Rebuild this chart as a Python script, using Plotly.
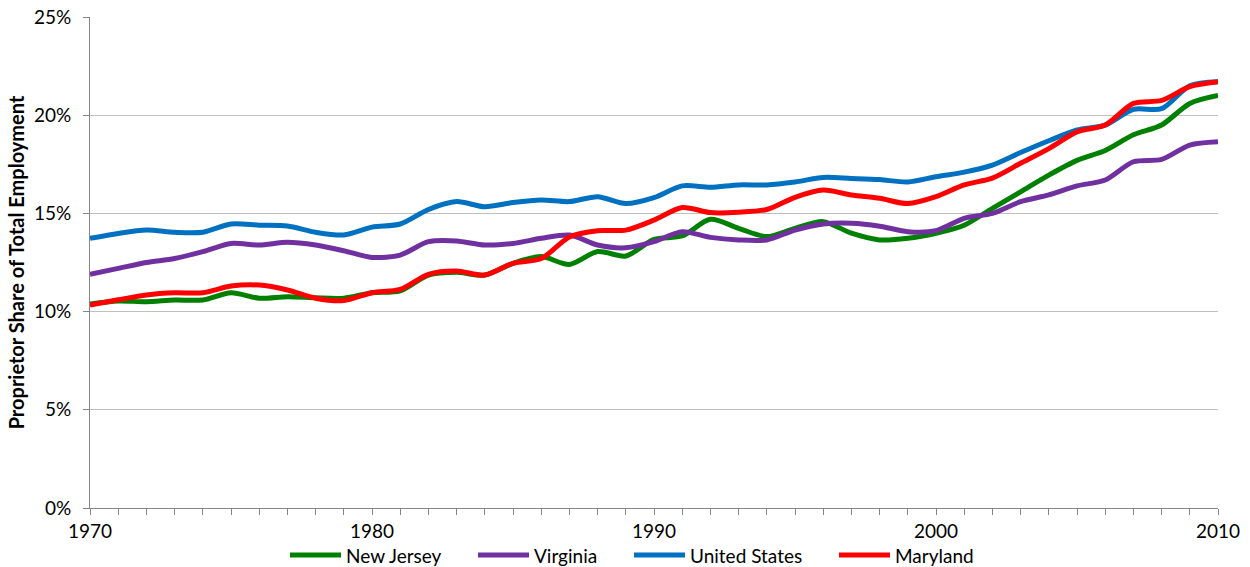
import plotly.graph_objects as go

years = list(range(1970, 2011))

new_jersey = [10.39, 10.54, 10.5, 10.59, 10.59, 10.96, 10.68, 10.76, 10.7, 10.68,
              10.96, 11.06, 11.86, 12.0, 11.86, 12.46, 12.8, 12.4, 13.06, 12.83,
              13.68, 13.85, 14.7, 14.24, 13.82, 14.24, 14.58, 13.99, 13.65, 13.73,
              13.99, 14.4, 15.26, 16.1, 16.95, 17.7, 18.2, 19.0, 19.5, 20.6, 21.0]

virginia = [11.9, 12.2, 12.5, 12.7, 13.05, 13.47, 13.39, 13.53, 13.39, 13.1,
            12.76, 12.88, 13.56, 13.6, 13.39, 13.47, 13.73, 13.9, 13.39, 13.25,
            13.56, 14.07, 13.78, 13.65, 13.65, 14.15, 14.46, 14.5, 14.35, 14.07,
            14.12, 14.75, 15.0, 15.6, 15.94, 16.4, 16.7, 17.63, 17.75, 18.48, 18.65]

united_states = [13.73, 13.98, 14.15, 14.04, 14.04, 14.46, 14.4, 14.36, 14.04, 13.9,
                 14.3, 14.46, 15.2, 15.6, 15.34, 15.55, 15.68, 15.6, 15.85, 15.5,
                 15.8, 16.4, 16.33, 16.45, 16.45, 16.6, 16.83, 16.78, 16.72, 16.6,
                 16.87, 17.1, 17.46, 18.1, 18.7, 19.25, 19.5, 20.3, 20.33, 21.5, 21.7]

maryland = [10.33, 10.6, 10.85, 10.96, 10.96, 11.3, 11.35, 11.1, 10.68, 10.56,
            10.96, 11.13, 11.9, 12.07, 11.86, 12.46, 12.7, 13.8, 14.12, 14.15,
            14.66, 15.3, 15.04, 15.06, 15.2, 15.82, 16.19, 15.94, 15.77, 15.5,
            15.85, 16.45, 16.8, 17.55, 18.3, 19.15, 19.5, 20.6, 20.75, 21.45, 21.7]

series_names = ["New Jersey", "Virginia", "United States", "Maryland"]
series_values = [new_jersey, virginia, united_states, maryland]
series_colors = ["#008000", "#7030A0", "#0070C0", "#FF0000"]

x_ticks = [1970, 1980, 1990, 2000, 2010]
y_ticks = [0, 5, 10, 15, 20, 25]

FONT = "Lato, 'Open Sans', Arial, sans-serif"
W, H = 1250, 567
ML, MR, MT, MB = 90, 32, 17, 59
PW, PH = W - ML - MR, H - MT - MB

def px_x(px):
    return (px - ML) / PW

def px_y(py):
    return (H - MB - py) / PH

fig = go.Figure()
for name, vals, color in zip(series_names, series_values, series_colors):
    fig.add_trace(go.Scatter(
        x=years, y=vals, name=name, mode="lines",
        line=dict(color=color, width=5, shape="spline", smoothing=0.8),
        showlegend=False,
    ))

# Excel-style legend below the plot: long line swatch followed by the name
legend_swatch_start = [288, 476, 632, 837]
legend_y = px_y(555)
shapes, annotations = [], []
for name, color, x0 in zip(series_names, series_colors, legend_swatch_start):
    shapes.append(dict(type="line", xref="paper", yref="paper",
                       x0=px_x(x0 + 2), x1=px_x(x0 + 53), y0=legend_y, y1=legend_y,
                       line=dict(color=color, width=5)))
    annotations.append(dict(text=name, xref="paper", yref="paper",
                            x=px_x(x0 + 57), y=legend_y, xanchor="left", yanchor="middle",
                            showarrow=False, borderpad=0, font=dict(size=19, color="#000000")))

fig.update_layout(
    width=W, height=H,
    margin=dict(l=ML, r=MR, t=MT, b=MB, autoexpand=False),
    paper_bgcolor="white", plot_bgcolor="white",
    font=dict(family=FONT, size=19, color="#000000"),
    showlegend=False,
    shapes=shapes, annotations=annotations,
    xaxis=dict(
        range=[1970, 2010], tickvals=x_ticks, ticktext=[str(v) for v in x_ticks],
        showgrid=False, showline=True, linecolor="#868686", linewidth=1,
        ticks="outside", ticklen=6, tickcolor="#868686",
        minor=dict(dtick=1, tick0=1970, ticks="outside", ticklen=6, tickcolor="#868686", showgrid=False),
        tickfont=dict(size=19), zeroline=False, automargin=False,
    ),
    yaxis=dict(
        range=[0, 25], tickvals=y_ticks, ticktext=[f"{v}%" for v in y_ticks],
        showgrid=True, gridcolor="#C0C0C0", gridwidth=1,
        showline=True, linecolor="#868686", linewidth=1,
        ticks="outside", ticklen=6, tickcolor="#868686",
        tickfont=dict(size=19), zeroline=False, automargin=False,
        ticklabelstandoff=8,
        title=dict(text="<b>Proprietor Share of Total Employment</b>", font=dict(size=20), standoff=3),
    ),
)

fig.write_html("out.html", config={"displayModeBar": False},
               post_script="document.body.style.margin='0';")
